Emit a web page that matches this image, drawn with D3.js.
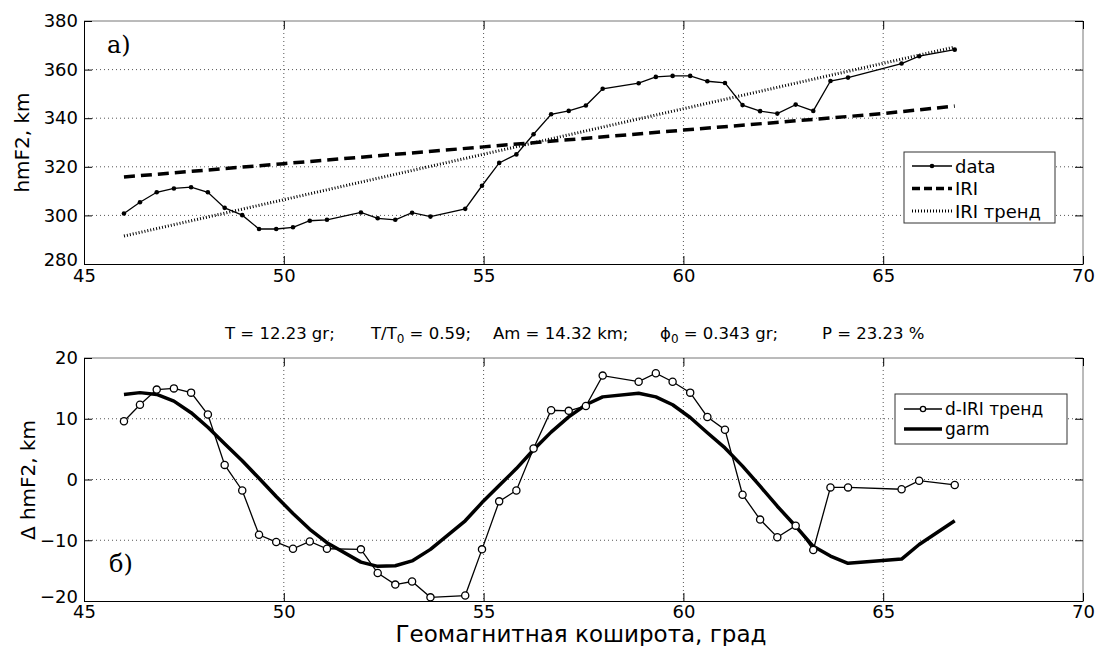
<!DOCTYPE html>
<html>
<head>
<meta charset="utf-8">
<script src="https://cdn.jsdelivr.net/npm/d3@7"></script>
<style>
  body { margin: 0; background: #fff; }
  text { font-family: "DejaVu Sans", sans-serif; fill: #000; }
</style>
</head>
<body>
<div id="viz_container"></div>
<script>
// geomagnetic co-latitude of each sounding
const lat = [46.0, 46.4, 46.82, 47.25, 47.68, 48.1, 48.52, 48.96, 49.38, 49.81,
  50.23, 50.65, 51.08, 51.93, 52.35, 52.79, 53.21, 53.67, 54.54, 54.96,
  55.39, 55.82, 56.25, 56.69, 57.13, 57.56, 57.98, 58.88, 59.31, 59.73,
  60.17, 60.6, 61.04, 61.48, 61.92, 62.35, 62.81, 63.25, 63.68, 64.12,
  65.46, 65.9, 66.79];

// panel a) measured hmF2
const hmf2 = [300.8, 305.4, 309.5, 311.1, 311.6, 309.5, 303.1, 300.1, 294.4, 294.4,
  295.1, 297.8, 298.2, 301.2, 298.8, 298.2, 301.1, 299.5, 302.7, 312.2,
  321.6, 325.1, 333.4, 341.6, 343.0, 345.2, 352.1, 354.4, 357.0, 357.4,
  357.4, 355.2, 354.5, 345.4, 342.9, 341.9, 345.6, 343.0, 355.3, 356.7,
  362.5, 365.5, 368.2];

// IRI model and its trend
const iriLat = [46.0, 50.0, 55.0, 60.0, 65.0, 66.79];
const iri = [315.8, 321.3, 328.2, 335.1, 341.9, 345.0];
const trendLat = [46.0, 66.79];
const iriTrend = [291.5, 369.3];

// panel б) deviation from trend and harmonic fit
const dIri = [9.6, 12.3, 14.8, 15.0, 14.3, 10.7, 2.4, -1.8, -9.1, -10.3,
  -11.4, -10.2, -11.4, -11.5, -15.4, -17.3, -16.8, -19.4, -19.1, -11.5,
  -3.6, -1.8, 5.1, 11.4, 11.3, 12.1, 17.1, 16.1, 17.5, 16.1,
  14.3, 10.3, 8.2, -2.5, -6.6, -9.5, -7.6, -11.6, -1.3, -1.3,
  -1.6, -0.2, -0.9];
const garm = [14.0, 14.3, 14.0, 12.9, 11.0, 8.6, 5.9, 3.1, 0.2, -2.8,
  -5.6, -8.2, -10.4, -13.6, -14.3, -14.2, -13.4, -11.5, -6.8, -3.8,
  -1.0, 1.8, 4.9, 7.8, 10.3, 12.3, 13.6, 14.2, 13.6, 12.3,
  10.2, 7.7, 5.2, 2.2, -1.1, -4.4, -7.7, -11.0, -12.6, -13.8,
  -13.1, -10.7, -6.8];

// ticks
const xTicks = [45, 50, 55, 60, 65, 70];
const yTicksTop = [280, 300, 320, 340, 360, 380];
const yTicksBot = [-20, -10, 0, 10, 20];

const W = 1095, H = 646;
const svg = d3.select("#viz_container")
  .append("svg")
  .attr("width", W)
  .attr("height", H);

const x = d3.scaleLinear().domain([45, 70]).range([84, 1083]);
const yTop = d3.scaleLinear().domain([280, 380]).range([264, 21]);
const yBot = d3.scaleLinear().domain([-20, 20]).range([601, 358]);

function frame(y, yTicks, pad) {
  const g = svg.append("g");
  const [y0, y1] = y.range();
  const [x0, x1] = x.range();

  // dotted grid
  g.append("g").selectAll("line")
    .data(xTicks.slice(1, -1))
    .join("line")
    .attr("x1", d => x(d)).attr("x2", d => x(d))
    .attr("y1", y1).attr("y2", y0)
    .attr("stroke", "#555").attr("stroke-dasharray", "1,3");
  g.append("g").selectAll("line")
    .data(yTicks.slice(1, -1))
    .join("line")
    .attr("x1", x0).attr("x2", x1)
    .attr("y1", d => y(d)).attr("y2", d => y(d))
    .attr("stroke", "#555").attr("stroke-dasharray", "1,3");

  // box, top/right lighter
  g.append("line").attr("x1", x0).attr("x2", x1).attr("y1", y1).attr("y2", y1).attr("stroke", "#777");
  g.append("line").attr("x1", x1).attr("x2", x1).attr("y1", y1).attr("y2", y0).attr("stroke", "#777");

  // axes with inside ticks
  g.append("g")
    .attr("transform", `translate(0,${y0})`)
    .call(d3.axisBottom(x).tickValues(xTicks).tickSizeInner(-8).tickSizeOuter(0).tickPadding(pad))
    .call(a => a.selectAll("text").attr("font-size", 18).attr("font-family", "DejaVu Sans"));
  g.append("g")
    .attr("transform", `translate(0,${y1})`)
    .call(d3.axisTop(x).tickValues(xTicks).tickSizeInner(-8).tickSizeOuter(0).tickFormat(""))
    .call(a => a.select(".domain").remove());
  g.append("g")
    .attr("transform", `translate(${x0},0)`)
    .call(d3.axisLeft(y).tickValues(yTicks).tickSizeInner(-8).tickSizeOuter(0).tickPadding(6))
    .call(a => a.selectAll("text").attr("font-size", 18).attr("font-family", "DejaVu Sans"))
    // lowest label sits a little higher, clear of the "45"
    .call(a => a.selectAll(".tick text").filter(d => d === yTicks[0]).attr("y", -4));
  g.append("g")
    .attr("transform", `translate(${x1},0)`)
    .call(d3.axisRight(y).tickValues(yTicks).tickSizeInner(-8).tickSizeOuter(0).tickFormat(""))
    .call(a => a.select(".domain").remove());
  return g;
}

// ---------- panel a)
frame(yTop, yTicksTop, 5);

const lineTop = (xs, ys) => d3.line().x((d, i) => x(xs[i])).y(d => yTop(d))(ys);

svg.append("path")
  .attr("d", lineTop(iriLat, iri))
  .attr("fill", "none").attr("stroke", "#000")
  .attr("stroke-width", 3.5).attr("stroke-dasharray", "11,6");

svg.append("path")
  .attr("d", lineTop(trendLat, iriTrend))
  .attr("fill", "none").attr("stroke", "#000")
  .attr("stroke-width", 3).attr("stroke-dasharray", "1,2");

svg.append("path")
  .attr("d", lineTop(lat, hmf2))
  .attr("fill", "none").attr("stroke", "#000").attr("stroke-width", 1.3);

svg.append("g").selectAll("circle")
  .data(hmf2)
  .join("circle")
  .attr("cx", (d, i) => x(lat[i]))
  .attr("cy", d => yTop(d))
  .attr("r", 2.3)
  .attr("fill", "#000");

svg.append("text")
  .attr("x", 107).attr("y", 53)
  .style("font-family", "DejaVu Serif, serif")
  .attr("font-size", 24)
  .text("а)");

svg.append("text")
  .attr("transform", "translate(29,142.5) rotate(-90)")
  .attr("text-anchor", "middle")
  .attr("font-size", 20)
  .text("hmF2, km");

// legend a)
const legA = svg.append("g").attr("transform", "translate(904,152)");
legA.append("rect").attr("width", 151).attr("height", 71)
  .attr("fill", "#fff").attr("stroke", "#333");
const legAItems = [
  { label: "data", width: 1.3, dash: null, dot: true },
  { label: "IRI", width: 3.5, dash: "8,4", dot: false },
  { label: "IRI тренд", width: 3, dash: "1,2", dot: false }
];
legAItems.forEach((it, i) => {
  const cy = 14 + i * 22.5;
  legA.append("line").attr("x1", 8).attr("x2", 48).attr("y1", cy).attr("y2", cy)
    .attr("stroke", "#000").attr("stroke-width", it.width)
    .attr("stroke-dasharray", it.dash);
  if (it.dot) legA.append("circle").attr("cx", 28).attr("cy", cy).attr("r", 2.3);
  legA.append("text").attr("x", 51).attr("y", cy + 6.5).attr("font-size", 18).text(it.label);
});

// ---------- stats line between panels
const statsX = [225, 371, 493, 660, 822];
const statsParts = [
  ["T = 12.23 gr;"],
  ["T/T", "0", " = 0.59;"],
  ["Am = 14.32 km;"],
  ["ϕ", "0", " = 0.343 gr;"],
  ["P = 23.23 %"]
];
statsParts.forEach((parts, k) => {
  const t = svg.append("text")
    .attr("x", statsX[k]).attr("y", 339)
    .attr("font-size", 16.5);
  parts.forEach((p, j) => {
    const sub = parts.length === 3 && j === 1;
    t.append("tspan")
      .attr("dy", sub ? 4 : (j === 2 ? -4 : 0))
      .attr("font-size", sub ? 12 : 16.5)
      .text(p);
  });
});

// ---------- panel б)
frame(yBot, yTicksBot, 4);

const lineBot = ys => d3.line().x((d, i) => x(lat[i])).y(d => yBot(d))(ys);

svg.append("path")
  .attr("d", lineBot(garm))
  .attr("fill", "none").attr("stroke", "#000").attr("stroke-width", 3.5)
  .attr("stroke-linejoin", "round");

svg.append("path")
  .attr("d", lineBot(dIri))
  .attr("fill", "none").attr("stroke", "#000").attr("stroke-width", 1.3);

svg.append("g").selectAll("circle")
  .data(dIri)
  .join("circle")
  .attr("cx", (d, i) => x(lat[i]))
  .attr("cy", d => yBot(d))
  .attr("r", 3.6)
  .attr("fill", "#fff").attr("stroke", "#000").attr("stroke-width", 1.3);

svg.append("text")
  .attr("x", 109).attr("y", 572)
  .style("font-family", "DejaVu Serif, serif")
  .attr("font-size", 24)
  .text("б)");

svg.append("text")
  .attr("transform", "translate(35,480) rotate(-90)")
  .attr("text-anchor", "middle")
  .attr("font-size", 20)
  .text("Δ hmF2, km");

svg.append("text")
  .attr("x", 581).attr("y", 642)
  .attr("text-anchor", "middle")
  .attr("font-size", 23)
  .text("Геомагнитная коширота, град");

// legend б)
const legB = svg.append("g").attr("transform", "translate(895,394)");
legB.append("rect").attr("width", 172).attr("height", 50)
  .attr("fill", "#fff").attr("stroke", "#333");
legB.append("line").attr("x1", 9).attr("x2", 47).attr("y1", 15).attr("y2", 15)
  .attr("stroke", "#000").attr("stroke-width", 1.3);
legB.append("circle").attr("cx", 28).attr("cy", 15).attr("r", 2.6)
  .attr("fill", "#fff").attr("stroke", "#000").attr("stroke-width", 1.3);
legB.append("text").attr("x", 50).attr("y", 21).attr("font-size", 17).text("d-IRI тренд");
legB.append("line").attr("x1", 9).attr("x2", 47).attr("y1", 35).attr("y2", 35)
  .attr("stroke", "#000").attr("stroke-width", 3.5);
legB.append("text").attr("x", 50).attr("y", 41).attr("font-size", 17).text("garm");
</script>
</body>
</html>
